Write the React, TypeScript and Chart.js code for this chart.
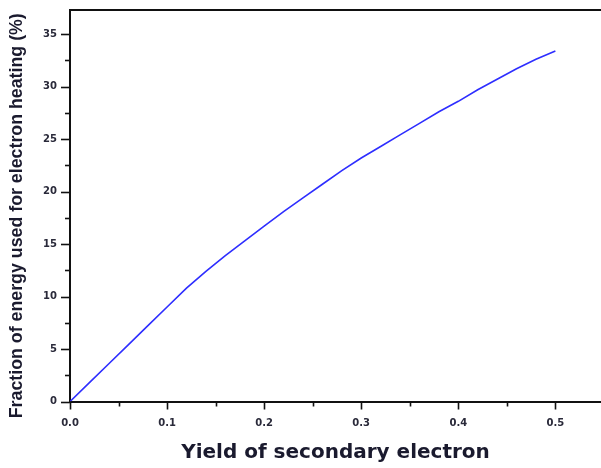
import React, { useEffect, useRef } from "react";
import { Chart, registerables, Plugin } from "chart.js";

Chart.register(...registerables);

// Secondary electron yield (x) and the fraction of energy going into electron heating (y, %)
const yieldValues = [
  0, 0.02, 0.04, 0.06, 0.08, 0.1, 0.12, 0.14, 0.16, 0.18, 0.2, 0.22, 0.24,
  0.26, 0.28, 0.3, 0.32, 0.34, 0.36, 0.38, 0.4, 0.42, 0.44, 0.46, 0.48, 0.5,
];
const heatingFraction = [
  0, 1.8, 3.6, 5.4, 7.2, 9.0, 10.8, 12.4, 13.9, 15.3, 16.7, 18.1, 19.4, 20.7,
  22.0, 23.2, 24.3, 25.4, 26.5, 27.6, 28.6, 29.7, 30.7, 31.7, 32.6, 33.4,
];

const xMajorTicks = [0, 0.1, 0.2, 0.3, 0.4, 0.5];
const xMinorTicks = [0.05, 0.15, 0.25, 0.35, 0.45];
const yMajorTicks = [0, 5, 10, 15, 20, 25, 30, 35];
const yMinorTicks = [2.5, 7.5, 12.5, 17.5, 22.5, 27.5, 32.5];

const xTitle = "Yield of secondary electron";
const yTitle = "Fraction of energy used for electron heating (%)";

const titleColor = "#1a1a2e";

// Outward tick marks (long major, short minor), the top frame line and the y-axis title
const frameAndTicks: Plugin = {
  id: "frameAndTicks",
  afterDraw(chart) {
    const { ctx, chartArea } = chart;
    const xs = chart.scales.x;
    const ys = chart.scales.y;
    ctx.save();
    ctx.strokeStyle = "#111";
    ctx.lineWidth = 2;
    ctx.beginPath();
    ctx.moveTo(chartArea.left - 1, chartArea.top);
    ctx.lineTo(chartArea.right, chartArea.top);
    ctx.stroke();

    ctx.lineWidth = 1.6;
    const xTick = (v: number, len: number) => {
      const px = Math.round(xs.getPixelForValue(v)) + 0.5;
      ctx.beginPath();
      ctx.moveTo(px, chartArea.bottom);
      ctx.lineTo(px, chartArea.bottom + len);
      ctx.stroke();
    };
    const yTick = (v: number, len: number) => {
      const py = Math.round(ys.getPixelForValue(v)) + 0.5;
      ctx.beginPath();
      ctx.moveTo(chartArea.left, py);
      ctx.lineTo(chartArea.left - len, py);
      ctx.stroke();
    };
    xMajorTicks.forEach((v) => xTick(v, 8));
    xMinorTicks.forEach((v) => xTick(v, 5));
    yMajorTicks.forEach((v) => yTick(v, 9));
    yMinorTicks.forEach((v) => yTick(v, 5));

    // rotated y-axis title, sitting a little below the plot's vertical centre
    ctx.translate(17, chartArea.top + (chartArea.bottom - chartArea.top) / 2 + 10);
    ctx.rotate(-Math.PI / 2);
    ctx.fillStyle = titleColor;
    ctx.font = "bold 17.8px 'Liberation Sans', Arial, sans-serif";
    ctx.textAlign = "center";
    ctx.textBaseline = "middle";
    ctx.fillText(yTitle, 0, 0);
    ctx.restore();
  },
};

export default function App() {
  const canvasRef = useRef<HTMLCanvasElement | null>(null);

  useEffect(() => {
    if (!canvasRef.current) return;
    const tickFont = { family: "'DejaVu Sans', Verdana, sans-serif", size: 10, weight: "bold" as const };
    const chart = new Chart(canvasRef.current, {
      type: "line",
      data: {
        datasets: [
          {
            data: yieldValues.map((x, i) => ({ x, y: heatingFraction[i] })),
            borderColor: "#2e2eff",
            borderWidth: 1.6,
            pointRadius: 0,
            tension: 0,
            fill: false,
          },
        ],
      },
      options: {
        animation: false,
        responsive: false,
        maintainAspectRatio: false,
        layout: { padding: { top: 10, right: 0, left: 0, bottom: 0 } },
        plugins: { legend: { display: false }, tooltip: { enabled: false } },
        scales: {
          x: {
            type: "linear",
            min: 0,
            max: 0.547,
            afterFit: (s: any) => {
              s.height = 66.5;
              s.paddingLeft = 0;
              s.paddingRight = 0;
            },
            afterBuildTicks: (s: any) => {
              s.ticks = xMajorTicks.map((value) => ({ value }));
            },
            grid: { display: false, drawTicks: false },
            border: { display: true, color: "#111", width: 2 },
            ticks: {
              padding: 16,
              color: "#2a2a3a",
              font: tickFont,
              maxRotation: 0,
              callback: (v: any) => Number(v).toFixed(1),
            },
            title: {
              display: true,
              text: xTitle,
              color: titleColor,
              font: { family: "'DejaVu Sans', Verdana, sans-serif", size: 20, weight: "bold" },
              padding: { top: 0, bottom: 3 },
            },
          },
          y: {
            type: "linear",
            min: 0,
            max: 37.3,
            afterFit: (s: any) => {
              s.width = 70;
              s.paddingTop = 0;
              s.paddingBottom = 0;
            },
            afterBuildTicks: (s: any) => {
              s.ticks = yMajorTicks.map((value) => ({ value }));
            },
            grid: { display: false, drawTicks: false },
            border: { display: true, color: "#111", width: 2 },
            ticks: {
              padding: 13,
              color: "#2a2a3a",
              font: tickFont,
              callback: (v: any) => String(v),
            },
            title: { display: false },
          },
        },
      },
      plugins: [frameAndTicks],
    });
    return () => chart.destroy();
  }, []);

  return (
    <div style={{ position: "fixed", left: 0, top: 0, width: 601, height: 468, background: "#fff" }}>
      <canvas ref={canvasRef} width={601} height={468} style={{ display: "block" }} />
    </div>
  );
}
